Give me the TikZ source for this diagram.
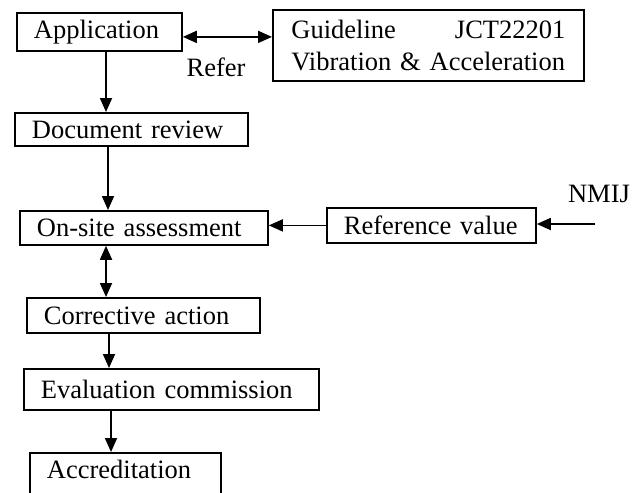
\documentclass[tikz,border=0pt]{standalone}
\usepackage{fontspec}
\setmainfont{Liberation Serif}
\usepackage{tikz}
\usetikzlibrary{arrows.meta,positioning,calc}

\begin{document}
\begin{tikzpicture}[x=0.5pt,y=-0.5pt,>={Triangle[length=7pt,width=6pt]},
  line width=0.9pt,
  font=\fontsize{13.25}{16}\selectfont,
  stage/.style={draw,anchor=north west,align=left,inner xsep=8.5pt,inner ysep=0pt}]
\useasboundingbox (0,0) rectangle (640,492);
\node[stage,text width=65.5pt,minimum width=82.5pt,minimum height=19pt] (app) at (16,12)
  {Application};
\node[stage,text width=137pt,minimum width=155.5pt,minimum height=35.25pt] (guide) at (272,9.5)
  {Guideline\hfill JCT22201\\Vibration \& Acceleration};
\node (refer) at (216,67) {Refer};
\node[stage,text width=99.5pt,minimum width=116.5pt,minimum height=16.5pt] (doc) at (14,112)
  {Document review};
\node[stage,text width=107pt,minimum width=124pt,minimum height=17pt] (onsite) at (19,210)
  {On-site assessment};
\node[stage,text width=87.5pt,minimum width=104.5pt,minimum height=17.5pt] (ref) at (326,207)
  {Reference value};
\node (nmij) at (599,194) {NMIJ};
\coordinate (nmijin) at (595,224);
\node[stage,text width=99.5pt,minimum width=116.5pt,minimum height=17.5pt] (corr) at (26,297)
  {Corrective action};
\node[stage,text width=130.5pt,minimum width=147.5pt,minimum height=20.5pt] (eval) at (23,368)
  {Evaluation commission};
\node[stage,text width=78.5pt,minimum width=95.5pt,text height=13pt,text depth=11pt] (accr) at (29,452)
  {Accreditation};
% connectors
\draw[<->] ([yshift=-2.5pt]app.east) -- ([yshift=-2.5pt]app.east -| guide.west);
\foreach \a/\b/\x in {app/doc/106,doc/onsite/108,corr/eval/109,eval/accr/111}
  \draw[->] (\a.south -| \x,0) -- (\b.north -| \x,0);
\draw[<->] (onsite.south -| 106,0) -- (corr.north -| 106,0);
\draw[->] (ref.west) -- (ref.west -| onsite.east);
\draw[->] (nmijin) -- (nmijin -| ref.east);
\end{tikzpicture}
\end{document}
